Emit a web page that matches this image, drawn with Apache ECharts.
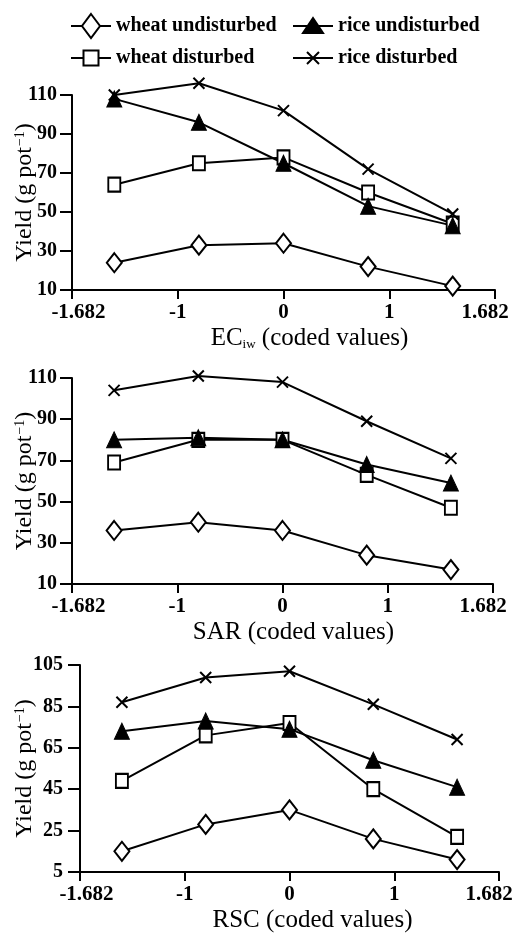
<!DOCTYPE html>
<html><head><meta charset="utf-8">
<script src="https://cdn.jsdelivr.net/npm/echarts@6/dist/echarts.min.js"></script>
<style>html,body{margin:0;padding:0;background:#fff}#c{width:516px;height:934px}</style>
</head><body><div id="c"></div>
<script>
// ---- data ----
const tickLabels = ['-1.682', '-1', '0', '1', '1.682'];
// design points along the (equally spaced) tick-index scale
const xPos = [0.4, 1.2, 2.0, 2.8, 3.6];

const ecWheatUndisturbed = [24, 33, 34, 22, 12];
const ecRiceUndisturbed  = [108, 96, 75, 53, 43];
const ecWheatDisturbed   = [64, 75, 78, 60, 44];
const ecRiceDisturbed    = [110, 116, 102, 72, 49];

const sarWheatUndisturbed = [36, 40, 36, 24, 17];
const sarRiceUndisturbed  = [80, 81, 80, 68, 59];
const sarWheatDisturbed   = [69, 80, 80, 63, 47];
const sarRiceDisturbed    = [104, 111, 108, 89, 71];

const rscWheatUndisturbed = [15, 28, 35, 21, 11];
const rscRiceUndisturbed  = [73, 78, 74, 59, 46];
const rscWheatDisturbed   = [49, 71, 77, 45, 22];
const rscRiceDisturbed    = [87, 99, 102, 86, 69];

const yTicksEC  = [10, 30, 50, 70, 90, 110];
const yTicksSAR = [10, 30, 50, 70, 90, 110];
const yTicksRSC = [5, 25, 45, 65, 85, 105];

// ---- styles ----
const FONT = 'Liberation Serif, Times New Roman, serif';
const styles = {
  'wheat undisturbed': { symbol: 'diamond', symbolSize: [15, 19],
    itemStyle: { color: '#fff', borderColor: '#000', borderWidth: 2 },
    icon: 'path://M0,12L11,12M29,12L40,12M20,0L29,12L20,24L11,12Z' },
  'rice undisturbed': { symbol: 'triangle', symbolSize: [15, 16],
    itemStyle: { color: '#000', borderColor: '#000', borderWidth: 1 },
    icon: 'path://M0,0M40,24M0,12L40,12M20,4L30,19L10,19Z' },
  'wheat disturbed': { symbol: 'rect', symbolSize: [12, 14],
    itemStyle: { color: '#fff', borderColor: '#000', borderWidth: 2 },
    icon: 'path://M0,0M40,24M0,12L12.5,12M27.5,12L40,12M12.5,4.5L27.5,4.5L27.5,19.5L12.5,19.5Z' },
  'rice disturbed': { symbol: 'path://M0,0L10,10M10,0L0,10', symbolSize: [11, 11],
    itemStyle: { color: '#000', borderColor: '#000', borderWidth: 2 },
    icon: 'path://M0,0M40,24M0,12L40,12M14,6L26,18M26,6L14,18' }
};

const panels = [
  { grid: { left: 72, right: 21, top: 95, height: 195 }, min: 10, max: 110, ticks: yTicksEC,
    name: 'EC{sub|iw} (coded values)', namePad: 52, yGap: 35, labMargin: 15,
    data: { 'wheat undisturbed': ecWheatUndisturbed, 'rice undisturbed': ecRiceUndisturbed,
            'wheat disturbed': ecWheatDisturbed, 'rice disturbed': ecRiceDisturbed } },
  { grid: { left: 72, right: 23, top: 378, height: 206 }, min: 10, max: 110, ticks: yTicksSAR,
    name: 'SAR (coded values)', namePad: 22, yGap: 35, labMargin: 15,
    data: { 'wheat undisturbed': sarWheatUndisturbed, 'rice undisturbed': sarRiceUndisturbed,
            'wheat disturbed': sarWheatDisturbed, 'rice disturbed': sarRiceDisturbed } },
  { grid: { left: 80, right: 17, top: 665, height: 207 }, min: 5, max: 105, ticks: yTicksRSC,
    name: 'RSC (coded values)', namePad: 46, yGap: 43, labMargin: 17,
    data: { 'wheat undisturbed': rscWheatUndisturbed, 'rice undisturbed': rscRiceUndisturbed,
            'wheat disturbed': rscWheatDisturbed, 'rice disturbed': rscRiceDisturbed } }
];
const order = ['wheat disturbed', 'rice undisturbed', 'wheat undisturbed', 'rice disturbed'];

const tickFont = { fontFamily: FONT, fontWeight: 'bold', fontSize: 21, color: '#000' };
const axisLine = { onZero: false, lineStyle: { color: '#000', width: 2 } };
const grids = [], xAxes = [], yAxes = [], series = [];
panels.forEach((p, i) => {
  grids.push(Object.assign({ outerBoundsMode: 'none', containLabel: false }, p.grid));
  xAxes.push({
    type: 'value', gridIndex: i, min: 0, max: 4, interval: 1,
    axisLine: axisLine,
    axisTick: { length: 9, lineStyle: { color: '#000', width: 2 } },
    splitLine: { show: false },
    axisLabel: Object.assign({
      formatter: v => {
        const k = Math.round(v);
        if (k === 0) return '{first|' + tickLabels[k] + '}';
        if (k === tickLabels.length - 1) return '{last|' + tickLabels[k] + '}';
        return tickLabels[k];
      },
      margin: 12,
      rich: {
        first: Object.assign({ padding: [0, 0, 0, 13] }, tickFont),
        last: Object.assign({ padding: [0, 20, 0, 0] }, tickFont)
      }
    }, tickFont),
    name: p.name, nameLocation: 'middle', nameGap: 36, nameMoveOverlap: false,
    nameTextStyle: { color: '#000', fontFamily: FONT, fontSize: 25, padding: [0, 0, 0, p.namePad],
      rich: { sub: { fontFamily: FONT, fontSize: 13, verticalAlign: 'bottom', color: '#000', padding: [9, 0, 0, 0] } } }
  });
  yAxes.push({
    type: 'value', gridIndex: i, min: p.min, max: p.max,
    axisLine: axisLine,
    axisTick: { length: 12, lineStyle: { color: '#000', width: 2 }, customValues: p.ticks },
    splitLine: { show: false },
    axisLabel: { customValues: p.ticks, margin: p.labMargin, color: '#000',
      fontFamily: FONT, fontWeight: 'bold', fontSize: 20 },
    name: 'Yield (g pot{sup|\u22121})', nameLocation: 'middle', nameGap: p.yGap, nameMoveOverlap: false,
    nameTextStyle: { color: '#000', fontFamily: FONT, fontSize: 24,
      rich: { sup: { fontFamily: FONT, fontSize: 14, color: '#000', verticalAlign: 'top', padding: [0, 0, 9, 1] } } }
  });
  order.forEach(n => {
    const s = styles[n];
    series.push({
      type: 'line', name: n, xAxisIndex: i, yAxisIndex: i, clip: false,
      symbol: s.symbol, symbolSize: s.symbolSize, itemStyle: s.itemStyle,
      lineStyle: { color: '#000', width: 2 }, animation: false,
      data: p.data[n].map((v, k) => [xPos[k], v])
    });
  });
});

const legendCommon = {
  orient: 'vertical', top: 13, padding: 0, itemWidth: 40, itemHeight: 24, itemGap: 6,
  selectedMode: false, symbolKeepAspect: true,
  textStyle: { color: '#000', fontFamily: FONT, fontWeight: 'bold', fontSize: 20 }
};
const legendItem = n => ({ name: n, icon: styles[n].icon });

const chart = echarts.init(document.getElementById('c'), null, { renderer: 'canvas' });
chart.setOption({
  backgroundColor: '#fff',
  animation: false,
  legend: [
    Object.assign({ left: 70, data: [legendItem('wheat undisturbed'), legendItem('wheat disturbed')] }, legendCommon),
    Object.assign({ left: 292, data: [legendItem('rice undisturbed'), legendItem('rice disturbed')] }, legendCommon)
  ],
  grid: grids, xAxis: xAxes, yAxis: yAxes, series: series
});
</script></body></html>
